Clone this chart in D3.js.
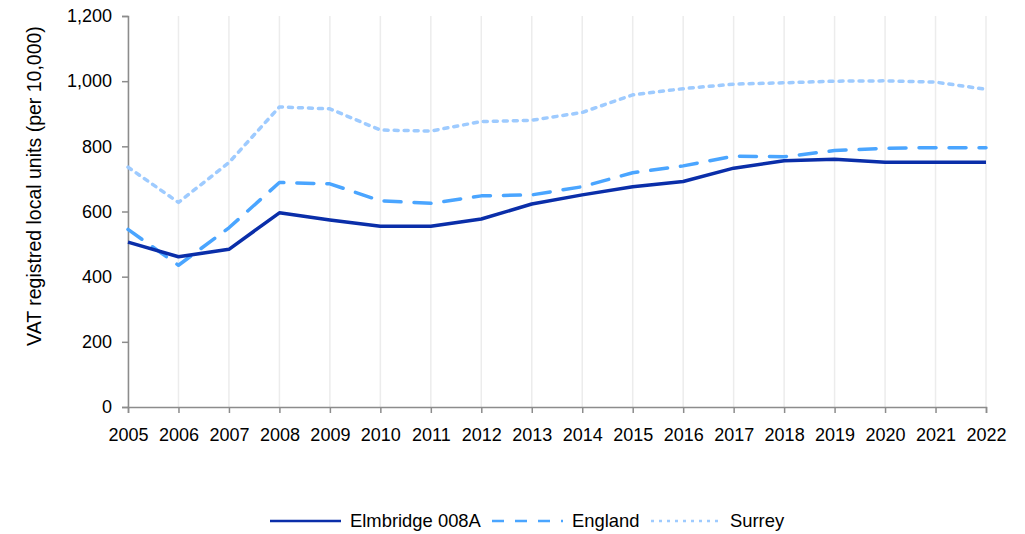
<!DOCTYPE html>
<html>
<head>
<meta charset="utf-8">
<script src="https://cdn.jsdelivr.net/npm/d3@7"></script>
<style>
  html, body { margin: 0; padding: 0; background: #fff; }
  svg { display: block; font-family: "Liberation Sans", Arial, sans-serif; }
</style>
</head>
<body>
<svg id="chart" width="1025" height="534"></svg>
<script>
// Years on the x axis
const years = [2005, 2006, 2007, 2008, 2009, 2010, 2011, 2012, 2013, 2014, 2015, 2016, 2017, 2018, 2019, 2020, 2021, 2022];

// VAT registered local units per 10,000
const elmbridge = [506, 461, 484, 596, 574, 555, 555, 577, 623, 651, 676, 692, 733, 756, 760, 751, 751, 751];
const england   = [545, 435, 550, 689, 685, 633, 625, 648, 651, 676, 719, 740, 770, 768, 787, 794, 796, 796];
const surrey    = [736, 628, 750, 921, 915, 850, 847, 876, 880, 904, 958, 977, 991, 995, 1000, 1001, 997, 975];

const yTicks = [0, 200, 400, 600, 800, 1000, 1200];
const seriesNames = ["Elmbridge 008A", "England", "Surrey"];

const series = [
  { name: seriesNames[0], values: elmbridge, color: "#0a2ea9", dash: null,    legendDash: null },
  { name: seriesNames[1], values: england,   color: "#4aa5ff", dash: "17,13", legendDash: "12,11" },
  { name: seriesNames[2], values: surrey,    color: "#9ecbff", dash: "4,6",   legendDash: "3,5" }
];

const svg = d3.select("#chart");
const margin = { left: 128, right: 39, top: 16, bottom: 127 };
const W = 1025, H = 534;
const innerW = W - margin.left - margin.right;
const innerH = H - margin.top - margin.bottom;
const fontSize = "18px";

const x = d3.scaleLinear().domain([years[0], years[years.length - 1]]).range([margin.left, margin.left + innerW]);
const y = d3.scaleLinear().domain([0, 1200]).range([margin.top + innerH, margin.top]);

// vertical gridlines at every year
svg.append("g")
  .selectAll("line")
  .data(years)
  .join("line")
  .attr("x1", d => x(d)).attr("x2", d => x(d))
  .attr("y1", y(1200)).attr("y2", y(0))
  .attr("stroke", "#ececec")
  .attr("stroke-width", 1.5);

// y axis
const yAxis = svg.append("g")
  .attr("transform", `translate(${margin.left},0)`)
  .call(d3.axisLeft(y).tickValues(yTicks).tickSize(6).tickPadding(10).tickFormat(d3.format(",")));

// x axis
const xAxis = svg.append("g")
  .attr("transform", `translate(0,${y(0)})`)
  .call(d3.axisBottom(x).tickValues(years).tickSize(6).tickPadding(15).tickFormat(d3.format("d")));

[yAxis, xAxis].forEach(g => {
  g.select(".domain").attr("stroke", "#8c8c8c").attr("stroke-width", 1.5);
  g.selectAll(".tick line").attr("stroke", "#8c8c8c").attr("stroke-width", 1.5);
  g.selectAll(".tick text").attr("fill", "#000").style("font-size", fontSize).style("font-family", "Liberation Sans, Arial, sans-serif");
});

// y axis title
svg.append("text")
  .attr("transform", `translate(41,186) rotate(-90)`)
  .attr("text-anchor", "middle")
  .style("font-size", "19.5px")
  .attr("fill", "#000")
  .text("VAT registred local units (per 10,000)");

// lines
const line = d3.line()
  .x((d, i) => x(years[i]))
  .y(d => y(d));

// draw Surrey first so darker series sit on top
[series[2], series[1], series[0]].forEach(s => {
  svg.append("path")
    .datum(s.values)
    .attr("d", line)
    .attr("fill", "none")
    .attr("stroke", s.color)
    .attr("stroke-width", 3.5)
    .attr("stroke-dasharray", s.dash)
    .attr("stroke-linecap", s.dash ? "round" : "butt")
    .attr("stroke-linejoin", "round");
});

// legend
const legendY = 521;
const legendItems = [
  { s: series[0], x0: 270, x1: 341, tx: 350 },
  { s: series[1], x0: 492, x1: 563, tx: 572 },
  { s: series[2], x0: 651, x1: 720, tx: 730 }
];
const lg = svg.append("g");
legendItems.forEach(it => {
  lg.append("line")
    .attr("x1", it.x0).attr("x2", it.x1)
    .attr("y1", legendY).attr("y2", legendY)
    .attr("stroke", it.s.color)
    .attr("stroke-width", 2.5)
    .attr("stroke-dasharray", it.s.legendDash);
  lg.append("text")
    .attr("x", it.tx).attr("y", legendY)
    .attr("dy", "0.35em")
    .style("font-size", "18.4px")
    .attr("fill", "#000")
    .text(it.s.name);
});
</script>
</body>
</html>
